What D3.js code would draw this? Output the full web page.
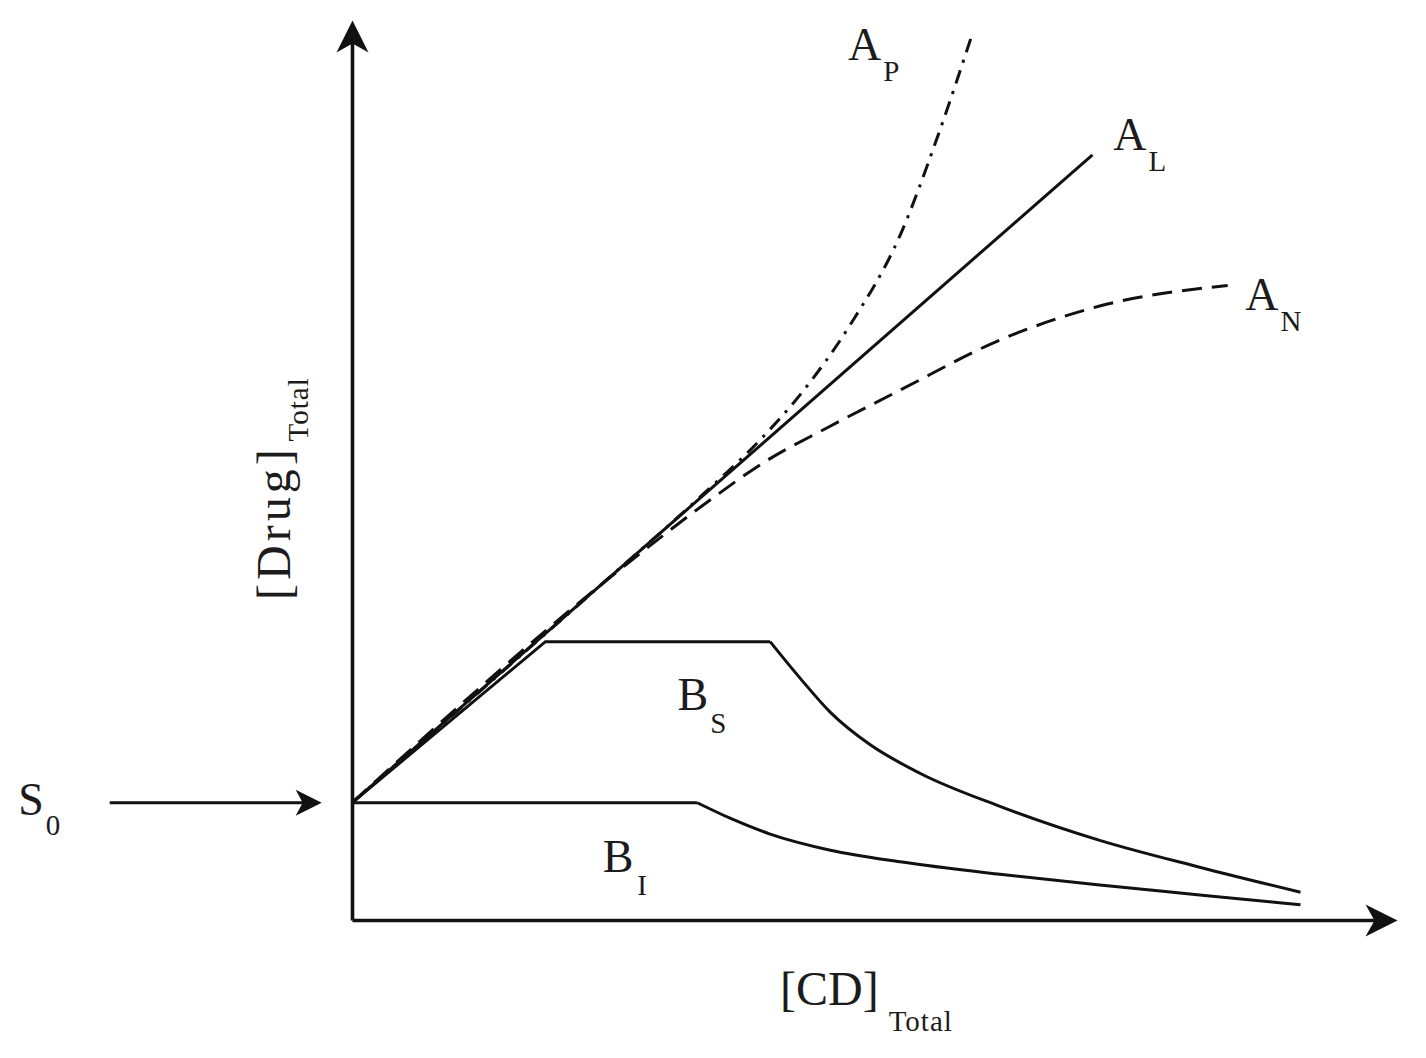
<!DOCTYPE html>
<html>
<head>
<meta charset="utf-8">
<script src="https://cdn.jsdelivr.net/npm/d3@7"></script>
<style>
  body { margin: 0; background: #fff; }
  text { font-family: "Liberation Serif", "DejaVu Serif", serif; fill: #1c1c1c; }
</style>
</head>
<body>
<div id="chart"></div>
<script>
// intrinsic solubility of the drug
const S0 = 1.31;

// A-type curves [CD]total, [Drug]total
const apPoints = [[0, 1.31], [2.38, 3.73], [3.35, 4.73], [3.92, 5.36], [4.31, 5.87], [4.79, 6.65], [5.27, 7.65], [5.63, 8.75], [5.97, 9.92]];
const alPoints = [[0, 1.31], [7.12, 8.55]];
const anPoints = [[0, 1.31], [2.58, 3.92], [3.44, 4.69], [3.97, 5.12], [4.57, 5.50], [5.27, 5.92], [6.23, 6.48], [7.19, 6.86], [8.42, 7.09]];

// B-type curves (rise, plateau, then fall)
const bsPoints = [[0, 1.31], [1.86, 3.11], [4.02, 3.11], [4.31, 2.70], [4.60, 2.32], [4.98, 1.96], [5.46, 1.64], [6.23, 1.27], [7.19, 0.89], [8.15, 0.59], [9.12, 0.31]];
const biPoints = [[0, 1.31], [3.32, 1.31], [3.63, 1.14], [4.02, 0.96], [4.60, 0.78], [5.27, 0.65], [6.23, 0.51], [7.19, 0.39], [8.15, 0.28], [9.12, 0.17]];

// index where the plateau ends and the curve starts falling
const bsKnee = 2;
const biKnee = 1;

const width = 1426, height = 1058;

const svg = d3.select("#chart")
  .append("svg")
  .attr("width", width)
  .attr("height", height);

const x = d3.scaleLinear().domain([0, 10]).range([352, 1392]);
const y = d3.scaleLinear().domain([0, 10]).range([920, 25]);

// arrow heads
const defs = svg.append("defs");
defs.append("marker")
  .attr("id", "axisArrow")
  .attr("markerUnits", "userSpaceOnUse")
  .attr("viewBox", "-30 -17 36 34")
  .attr("refX", 0).attr("refY", 0)
  .attr("markerWidth", 36).attr("markerHeight", 34)
  .attr("orient", "auto")
  .append("path")
  .attr("d", "M5,0 L-27,-16 L-18,0 L-27,16 Z")
  .attr("fill", "#111");

defs.append("marker")
  .attr("id", "smallArrow")
  .attr("markerUnits", "userSpaceOnUse")
  .attr("viewBox", "-26 -14 32 28")
  .attr("refX", 0).attr("refY", 0)
  .attr("markerWidth", 32).attr("markerHeight", 28)
  .attr("orient", "auto")
  .append("path")
  .attr("d", "M4,0 L-22,-13 L-15,0 L-22,13 Z")
  .attr("fill", "#111");

// axes without ticks, only the arrowed lines
const xAxis = svg.append("g")
  .attr("transform", `translate(0,${y(0)})`)
  .style("color", "#111")
  .call(d3.axisBottom(x).tickValues([]).tickSizeOuter(0));
xAxis.select(".domain")
  .attr("stroke-width", 3.6)
  .attr("marker-end", "url(#axisArrow)");

const yAxis = svg.append("g")
  .attr("transform", `translate(${x(0)},0)`)
  .style("color", "#111")
  .call(d3.axisLeft(y).tickValues([]).tickSizeOuter(0));
yAxis.select(".domain")
  .attr("stroke-width", 3.6)
  .attr("marker-end", "url(#axisArrow)");

const lineLin = d3.line().x(d => x(d[0])).y(d => y(d[1]));
const lineSmooth = d3.line().x(d => x(d[0])).y(d => y(d[1])).curve(d3.curveMonotoneX);

function drawCurve(points, gen, dash) {
  svg.append("path")
    .attr("d", gen(points))
    .attr("fill", "none")
    .attr("stroke", "#111")
    .attr("stroke-width", 3)
    .attr("stroke-dasharray", dash || null);
}

// B curves: straight part up to the knee, smooth fall afterwards
drawCurve(bsPoints.slice(0, bsKnee + 1), lineLin);
drawCurve(bsPoints.slice(bsKnee), lineSmooth);
drawCurve(biPoints.slice(0, biKnee + 1), lineLin);
drawCurve(biPoints.slice(biKnee), lineSmooth);

// A curves
drawCurve(anPoints, lineSmooth, "20,10");
drawCurve(apPoints, lineSmooth, "14,8,3,8");
drawCurve(alPoints, lineLin);

// S0 arrow
svg.append("line")
  .attr("x1", x(-2.33)).attr("x2", x(-0.33))
  .attr("y1", y(S0)).attr("y2", y(S0))
  .attr("stroke", "#111")
  .attr("stroke-width", 3)
  .attr("marker-end", "url(#smallArrow)");

// letter with subscript
function label(px, py, main, sub, size, subSize, dx, dy, spacing) {
  const t = svg.append("text")
    .attr("x", px).attr("y", py)
    .style("font-size", size + "px");
  t.append("tspan")
    .style("letter-spacing", (spacing || 0) + "px")
    .text(main);
  t.append("tspan")
    .attr("dx", dx)
    .attr("dy", dy)
    .style("font-size", subSize + "px")
    .style("letter-spacing", "1px")
    .text(sub);
  return t;
}

label(x(4.77), y(9.61), "A", "P", 46, 29, 2, 21);
label(x(7.32), y(8.60), "A", "L", 46, 29, 2, 21);
label(x(8.59), y(6.82), "A", "N", 46, 29, 2, 21);
label(x(3.13), y(2.35), "B", "S", 46, 29, 2, 23);
label(x(2.41), y(0.54), "B", "I", 46, 29, 4, 23);
label(x(-3.21), y(1.17), "S", "0", 46, 29, 2, 20);

// axis titles
label(780, 1005, "[CD]", "Total", 48, 29, 10, 26);
label(0, 0, "[Drug]", "Total", 48, 29, 4, 18, 4)
  .attr("transform", "translate(290,600) rotate(-90)");
</script>
</body>
</html>
